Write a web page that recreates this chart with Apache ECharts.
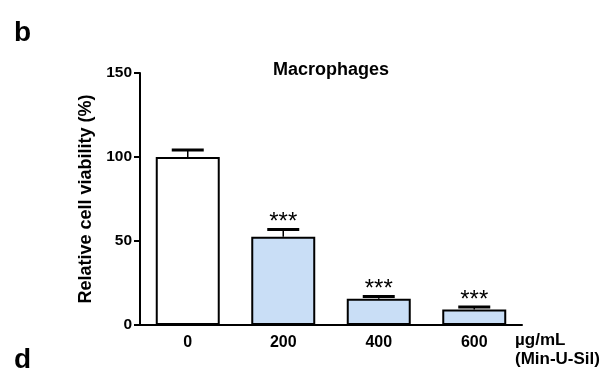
<!DOCTYPE html>
<html>
<head>
<meta charset="utf-8">
<script src="https://cdn.jsdelivr.net/npm/echarts@6/dist/echarts.min.js"></script>
<style>
html,body{margin:0;padding:0;background:#fff;}
#chart{width:612px;height:377px;}
</style>
</head>
<body>
<div id="chart"></div>
<script>
var categories = ['0', '200', '400', '600'];
var viability = [100, 52.6, 15.6, 9.3];
var errors = [4.2, 4.2, 1.3, 1.4];
var significance = ['', '***', '***', '***'];
var yTicks = [0, 50, 100, 150];

var FONT = '"Liberation Sans", Arial, sans-serif';
var chart = echarts.init(document.getElementById('chart'), null, {renderer: 'canvas'});

var barColors = ['#ffffff', '#c9def6', '#c9def6', '#c9def6'];

var option = {
  animation: false,
  backgroundColor: '#ffffff',
  grid: {left: 140, right: 90, top: 73, bottom: 52},
  xAxis: {
    type: 'category',
    data: categories,
    axisLine: {lineStyle: {color: '#000', width: 2}},
    axisTick: {show: false},
    axisLabel: {color: '#000', fontFamily: FONT, fontWeight: 'bold', fontSize: 16, margin: 10}
  },
  yAxis: {
    type: 'value',
    min: yTicks[0], max: yTicks[yTicks.length - 1], interval: 50,
    name: 'Relative cell viability (%)',
    nameLocation: 'middle',
    nameGap: 41,
    nameTextStyle: {color: '#000', fontFamily: FONT, fontWeight: 'bold', fontSize: 18},
    axisLine: {show: true, lineStyle: {color: '#000', width: 2}},
    axisTick: {show: true, length: 6, lineStyle: {color: '#000', width: 2}},
    axisLabel: {color: '#000', fontFamily: FONT, fontWeight: 'bold', fontSize: 15.5, margin: 8},
    splitLine: {show: false}
  },
  series: [
    {
      type: 'bar',
      barWidth: '67%',
      data: viability.map(function (v, i) {
        return {value: v, itemStyle: {color: barColors[i]}};
      }),
      itemStyle: {borderColor: '#000', borderWidth: 2},
      z: 2
    },
    {
      type: 'custom',
      z: 3,
      data: viability.map(function (v, i) { return [i, v, v + errors[i]]; }),
      renderItem: function (params, api) {
        var i = api.value(0);
        var base = api.coord([i, api.value(1)]);
        var top = api.coord([i, api.value(2)]);
        var sig = significance[params.dataIndex];
        var capHalf = 16;
        var children = [
          {type: 'line', shape: {x1: base[0], y1: base[1], x2: top[0], y2: top[1]}, style: {stroke: '#000', lineWidth: 1.5}},
          {type: 'line', shape: {x1: top[0] - capHalf, y1: top[1], x2: top[0] + capHalf, y2: top[1]}, style: {stroke: '#000', lineWidth: 3}}
        ];
        if (sig) {
          children.push({
            type: 'text',
            style: {
              text: sig,
              x: top[0], y: top[1] - 7,
              align: 'center', verticalAlign: 'middle',
              fill: '#000', font: '24px ' + FONT
            }
          });
        }
        return {type: 'group', children: children};
      }
    }
  ],
  graphic: [
    {type: 'text', x: 331, y: 61, style: {text: 'Macrophages', fill: '#000', font: 'bold 18px ' + FONT, align: 'center', verticalAlign: 'top'}},
    {type: 'text', left: 14, top: 19, style: {text: 'b', fill: '#000', font: 'bold 28px ' + FONT}},
    {type: 'text', left: 14, top: 346, style: {text: 'd', fill: '#000', font: 'bold 28px ' + FONT}},
    {type: 'text', left: 515, top: 331, style: {text: 'µg/mL\n(Min-U-Sil)', fill: '#000', font: 'bold 17px ' + FONT, lineHeight: 19}}
  ]
};
chart.setOption(option);
</script>
</body>
</html>
